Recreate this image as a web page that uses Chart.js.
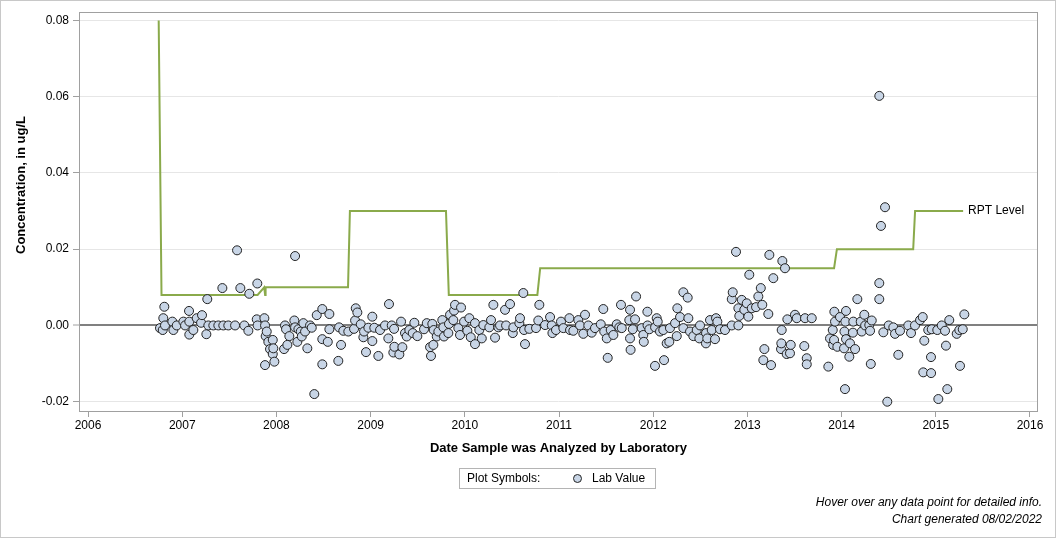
<!DOCTYPE html>
<html>
<head>
<meta charset="utf-8">
<title>Lab values</title>
<script src="https://cdn.jsdelivr.net/npm/chart.js@4/dist/chart.umd.min.js"></script>
<style>
  body { margin: 0; background: #fff; }
  #wrap { position: relative; width: 1056px; height: 538px; font-family: "Liberation Sans", Arial, sans-serif; color: #000; }
  #frame { position: absolute; left: 0; top: 0; width: 1056px; height: 538px; border: 1px solid #c8c8c8; box-sizing: border-box; pointer-events: none; }
  #legend { position: absolute; left: 459px; top: 468px; width: 197px; height: 21px; box-sizing: border-box; border: 1px solid #b4b4b4; font-size: 12px; line-height: 19px; }
  #legend .lbl { position: absolute; left: 7px; top: 0; }
  #legend .dot { position: absolute; left: 113px; top: 5px; width: 9px; height: 9px; box-sizing: border-box; border-radius: 50%; border: 1px solid #222; background: rgb(200, 213, 230); }
  #legend .val { position: absolute; left: 132px; top: 0; }
  #notes { position: absolute; right: 14px; top: 494px; font-size: 12px; font-style: italic; text-align: right; line-height: 17px; }
</style>
</head>
<body>
<div id="wrap">
  <canvas id="chart" width="1056" height="538"></canvas>
  <div id="legend"><span class="lbl">Plot Symbols:</span><span class="dot"></span><span class="val">Lab Value</span></div>
  <div id="notes">Hover over any data point for detailed info.<br>Chart generated 08/02/2022</div>
  <div id="frame"></div>
</div>
<script>
// axis ticks
const xTicks = [2006, 2007, 2008, 2009, 2010, 2011, 2012, 2013, 2014, 2015, 2016];
const yTicks = [-0.02, 0, 0.02, 0.04, 0.06, 0.08];

// reporting level (step line)
const rptYears  = [2006.75, 2006.78, 2007.80, 2007.87, 2007.88, 2007.885, 2008.76, 2008.78, 2009.80, 2009.83, 2010.77, 2010.80, 2013.92, 2013.95, 2014.76, 2014.78, 2015.29];
const rptLevels = [0.080,   0.008,   0.008,   0.010,   0.008,   0.010,    0.010,   0.030,   0.030,   0.008,   0.008,   0.015,   0.015,   0.020,   0.020,   0.030,   0.030];

// lab values: decimal year analyzed, concentration (ug/L)
const sampleYears = [
  2006.764, 2006.793, 2006.799, 2006.810, 2006.817, 2006.895, 2006.906, 2006.942, 2007.012, 2007.030,
  2007.072, 2007.075, 2007.075, 2007.118, 2007.154, 2007.200, 2007.210, 2007.256, 2007.266, 2007.277,
  2007.330, 2007.383, 2007.426, 2007.436, 2007.489, 2007.561, 2007.582, 2007.617, 2007.659, 2007.702,
  2007.712, 2007.791, 2007.797, 2007.800, 2007.872, 2007.879, 2007.879, 2007.886, 2007.897, 2007.914,
  2007.932, 2007.961, 2007.961, 2007.967, 2007.978,
  2008.081, 2008.091, 2008.102, 2008.116, 2008.137, 2008.190, 2008.198, 2008.198, 2008.222, 2008.233,
  2008.258, 2008.269, 2008.286, 2008.304, 2008.328, 2008.357, 2008.375, 2008.402, 2008.428, 2008.487,
  2008.487, 2008.487, 2008.545, 2008.562, 2008.562, 2008.657, 2008.665, 2008.686, 2008.710, 2008.763,
  2008.824, 2008.835, 2008.842, 2008.859, 2008.895, 2008.923, 2008.930, 2008.951, 2008.976, 2009.018,
  2009.018, 2009.039, 2009.082, 2009.100, 2009.153, 2009.188, 2009.195,
  2009.224, 2009.241, 2009.249, 2009.252, 2009.305, 2009.323, 2009.337, 2009.365, 2009.383, 2009.411,
  2009.447, 2009.464, 2009.496, 2009.567, 2009.596, 2009.631, 2009.641, 2009.655, 2009.666, 2009.670,
  2009.702, 2009.719, 2009.761, 2009.772, 2009.779, 2009.825, 2009.832, 2009.843, 2009.878, 2009.886,
  2009.896, 2009.931, 2009.949, 2009.960, 2009.992, 2010.027, 2010.048, 2010.063, 2010.108, 2010.108,
  2010.154, 2010.180, 2010.197, 2010.260, 2010.278, 2010.303, 2010.321, 2010.356, 2010.374, 2010.427,
  2010.438, 2010.480,
  2010.509, 2010.515, 2010.579, 2010.586, 2010.621, 2010.629, 2010.639, 2010.685, 2010.756, 2010.780,
  2010.791, 2010.852, 2010.905, 2010.923, 2010.930, 2010.968, 2011.021, 2011.046, 2011.110, 2011.117,
  2011.152, 2011.205, 2011.223, 2011.258, 2011.276, 2011.311, 2011.347, 2011.382, 2011.443, 2011.470,
  2011.480, 2011.507, 2011.517, 2011.549, 2011.577, 2011.613, 2011.640, 2011.658, 2011.666, 2011.746,
  2011.754, 2011.754, 2011.760,
  2011.783, 2011.807, 2011.818, 2011.878, 2011.895, 2011.900, 2011.938, 2011.940, 2011.959, 2012.019,
  2012.020, 2012.037, 2012.048, 2012.072, 2012.107, 2012.115, 2012.143, 2012.171, 2012.178, 2012.232,
  2012.250, 2012.256, 2012.285, 2012.320, 2012.320, 2012.366, 2012.373, 2012.391, 2012.426, 2012.462,
  2012.490, 2012.497, 2012.561, 2012.560, 2012.574, 2012.603, 2012.621, 2012.656, 2012.667, 2012.681,
  2012.709, 2012.762, 2012.834, 2012.834, 2012.844, 2012.879, 2012.904, 2012.904, 2012.914, 2012.940,
  2012.967, 2012.993, 2013.010, 2013.020,
  2013.046, 2013.092, 2013.116, 2013.142, 2013.158, 2013.169, 2013.180, 2013.222, 2013.233, 2013.251,
  2013.275, 2013.357, 2013.360, 2013.364, 2013.371, 2013.399, 2013.417, 2013.424, 2013.452, 2013.460,
  2013.505, 2013.524, 2013.604, 2013.612, 2013.630, 2013.630, 2013.683, 2013.859, 2013.877, 2013.906,
  2013.910, 2013.920, 2013.923, 2013.930, 2013.955, 2013.983, 2014.026, 2014.030, 2014.036, 2014.040,
  2014.047, 2014.047, 2014.082, 2014.089, 2014.120, 2014.124, 2014.143, 2014.167, 2014.203, 2014.214,
  2014.241, 2014.250, 2014.294, 2014.302, 2014.310, 2014.320,
  2014.400, 2014.400, 2014.400, 2014.418, 2014.443, 2014.461, 2014.485, 2014.500, 2014.549, 2014.567,
  2014.602, 2014.620, 2014.708, 2014.737, 2014.779, 2014.833, 2014.861, 2014.867, 2014.878, 2014.920,
  2014.949, 2014.950, 2014.957, 2015.016, 2015.027, 2015.063, 2015.098, 2015.108, 2015.122, 2015.143,
  2015.222, 2015.250, 2015.257, 2015.286, 2015.303
];
const labValues = [
  -0.0007, -0.0012, 0.0019, 0.0049, 0.0000, 0.0010, -0.0012, 0.0000, 0.0010, 0.0000,
  0.0038, 0.0010, -0.0024, -0.0012, 0.0019, 0.0007, 0.0027, -0.0023, 0.0069, 0.0000,
  0.0000, 0.0000, 0.0098, 0.0000, 0.0000, 0.0000, 0.0197, 0.0098, 0.0000, -0.0014,
  0.0083, 0.0016, 0.0110, 0.0000, 0.0019, 0.0000, -0.0104, -0.0028, -0.0016, -0.0043,
  -0.0062, -0.0038, -0.0075, -0.0060, -0.0095,
  -0.0062, 0.0000, -0.0010, -0.0051, -0.0028, 0.0013, 0.0182, -0.0005, -0.0043, -0.0010,
  -0.0016, -0.0029, 0.0006, -0.0016, -0.0060, 0.0000, -0.0006, -0.0180, 0.0027, 0.0043,
  -0.0036, -0.0102, -0.0043, 0.0030, -0.0010, -0.0093, -0.0005, -0.0051, -0.0014, -0.0016,
  -0.0009, 0.0013, 0.0045, 0.0034, 0.0003, -0.0031, -0.0016, -0.0070, -0.0006, 0.0023,
  -0.0041, -0.0006, -0.0080, -0.0012, 0.0000, -0.0034, 0.0056,
  0.0000, -0.0071, -0.0009, -0.0056, -0.0076, 0.0010, -0.0057, -0.0020, -0.0029, -0.0012,
  -0.0020, 0.0007, -0.0028, -0.0010, 0.0006, -0.0057, -0.0080, 0.0004, -0.0051, -0.0012,
  -0.0029, -0.0016, 0.0014, -0.0005, -0.0029, -0.0020, 0.0004, 0.0028, 0.0014, 0.0039,
  0.0054, -0.0007, -0.0025, 0.0047, 0.0010, -0.0014, 0.0019, -0.0031, 0.0006, -0.0049,
  -0.0012, -0.0034, 0.0001, -0.0005, 0.0014, 0.0054, -0.0032, -0.0005, 0.0000, 0.0041,
  0.0000, 0.0056,
  -0.0020, -0.0005, 0.0006, 0.0019, 0.0085, -0.0012, -0.0049, -0.0009, -0.0007, 0.0013,
  0.0054, 0.0001, 0.0022, 0.0000, -0.0020, -0.0012, 0.0010, -0.0007, 0.0019, -0.0012,
  -0.0014, 0.0014, 0.0000, -0.0022, 0.0028, 0.0000, -0.0019, -0.0007, 0.0003, 0.0043,
  -0.0016, -0.0034, -0.0085, -0.0012, -0.0025, 0.0003, -0.0005, 0.0054, -0.0007, 0.0014,
  0.0041, -0.0034, -0.0064,
  -0.0010, 0.0016, 0.0076, -0.0007, -0.0025, -0.0043, 0.0036, 0.0000, -0.0010, -0.0106,
  -0.0005, 0.0019, 0.0010, -0.0016, -0.0012, -0.0091, -0.0047, -0.0043, -0.0007, 0.0006,
  -0.0028, 0.0045, 0.0022, 0.0087, -0.0007, 0.0073, 0.0019, -0.0016, -0.0028, -0.0012,
  -0.0034, 0.0000, -0.0020, -0.0047, -0.0034, 0.0014, -0.0012, -0.0036, 0.0019, 0.0010,
  -0.0010, -0.0012, 0.0000, 0.0069, 0.0087, 0.0193, 0.0000, 0.0045, 0.0025, 0.0067,
  0.0041, 0.0058, 0.0023, 0.0133,
  0.0045, 0.0048, 0.0076, 0.0098, 0.0054, -0.0091, -0.0062, 0.0030, 0.0185, -0.0104,
  0.0124, -0.0062, -0.0047, -0.0012, 0.0169, 0.0150, -0.0075, 0.0016, -0.0073, -0.0051,
  0.0028, 0.0019, -0.0054, 0.0019, -0.0086, -0.0102, 0.0019, -0.0108, -0.0034, -0.0012,
  -0.0051, -0.0038, 0.0036, 0.0010, -0.0056, 0.0022, -0.0060, -0.0016, -0.0167, 0.0010,
  0.0038, -0.0036, -0.0082, -0.0047, -0.0019, 0.0010, -0.0062, 0.0069, 0.0010, -0.0016,
  0.0028, 0.0000, 0.0001, -0.0014, -0.0101, 0.0013,
  0.0602, 0.0111, 0.0069, 0.0261, -0.0018, 0.0310, -0.0200, 0.0000, -0.0005, -0.0022,
  -0.0077, -0.0014, 0.0000, -0.0020, 0.0000, 0.0014, 0.0022, -0.0123, -0.0040, -0.0012,
  -0.0083, -0.0125, -0.0010, -0.0012, -0.0193, 0.0000, -0.0014, -0.0053, -0.0167, 0.0014,
  -0.0022, -0.0012, -0.0106, -0.0010, 0.0029
];

const FONT = '"Liberation Sans", Arial, sans-serif';

const extras = {
  id: 'extras',
  afterDraw(chart) {
    const { ctx, chartArea: a, scales: { x, y } } = chart;
    ctx.save();
    ctx.strokeStyle = '#a0a0a0';
    ctx.lineWidth = 1;
    ctx.strokeRect(a.left + 0.5, a.top + 0.5, a.right - a.left - 1, a.bottom - a.top - 1);

    // label at the end of the reporting level line
    const last = rptYears.length - 1;
    ctx.fillStyle = '#000';
    ctx.font = '12px ' + FONT;
    ctx.textBaseline = 'middle';
    ctx.textAlign = 'left';
    ctx.fillText('RPT Level', x.getPixelForValue(rptYears[last]) + 5, y.getPixelForValue(rptLevels[last]));

    // y axis title
    ctx.translate(21, 185);
    ctx.rotate(-Math.PI / 2);
    ctx.font = 'bold 13px ' + FONT;
    ctx.textAlign = 'center';
    ctx.fillText('Concentration, in ug/L', 0, 0);
    ctx.restore();
  }
};

new Chart(document.getElementById('chart'), {
  type: 'scatter',
  data: {
    datasets: [
      {
        label: 'Lab Value',
        data: sampleYears.map((yr, i) => ({ x: yr, y: labValues[i] })),
        pointRadius: 4.5,
        pointBackgroundColor: 'rgb(200, 213, 230)',
        pointBorderColor: '#222',
        pointBorderWidth: 1
      },
      {
        label: 'RPT Level',
        data: rptYears.map((yr, i) => ({ x: yr, y: rptLevels[i] })),
        showLine: true,
        borderColor: '#8aaa4b',
        borderWidth: 2,
        pointRadius: 0,
        fill: false
      }
    ]
  },
  options: {
    responsive: false,
    animation: false,
    devicePixelRatio: 1,
    layout: { padding: { left: 0, right: 18, top: 12, bottom: 80 } },
    plugins: { legend: { display: false }, tooltip: { enabled: false } },
    scales: {
      x: {
        type: 'linear',
        min: 2005.904,
        max: 2016.085,
        afterFit: s => { s.height = 46; },
        afterBuildTicks: s => { s.ticks = xTicks.map(v => ({ value: v })); },
        border: { display: false },
        grid: { drawOnChartArea: false, tickLength: 5, tickColor: '#a0a0a0', tickWidth: 1 },
        ticks: { padding: 1, color: '#000', font: { size: 12, family: FONT }, callback: v => String(v), maxRotation: 0 },
        title: {
          display: true,
          text: 'Date Sample was Analyzed by Laboratory',
          color: '#000',
          font: { size: 13, weight: 'bold', family: FONT },
          padding: { top: 0, bottom: 2 }
        }
      },
      y: {
        min: -0.0227,
        max: 0.0822,
        afterFit: s => { s.width = 79; },
        afterBuildTicks: s => { s.ticks = yTicks.map(v => ({ value: v })); },
        border: { display: false },
        grid: {
          color: c => (c.tick && c.tick.value === 0 ? '#808080' : '#e6e6e6'),
          lineWidth: c => (c.tick && c.tick.value === 0 ? 2 : 1),
          tickLength: 6,
          tickColor: '#a0a0a0',
          tickWidth: 1
        },
        ticks: { padding: 4, color: '#000', font: { size: 12, family: FONT }, callback: v => v.toFixed(2) }
      }
    }
  },
  plugins: [extras]
});
</script>
</body>
</html>
